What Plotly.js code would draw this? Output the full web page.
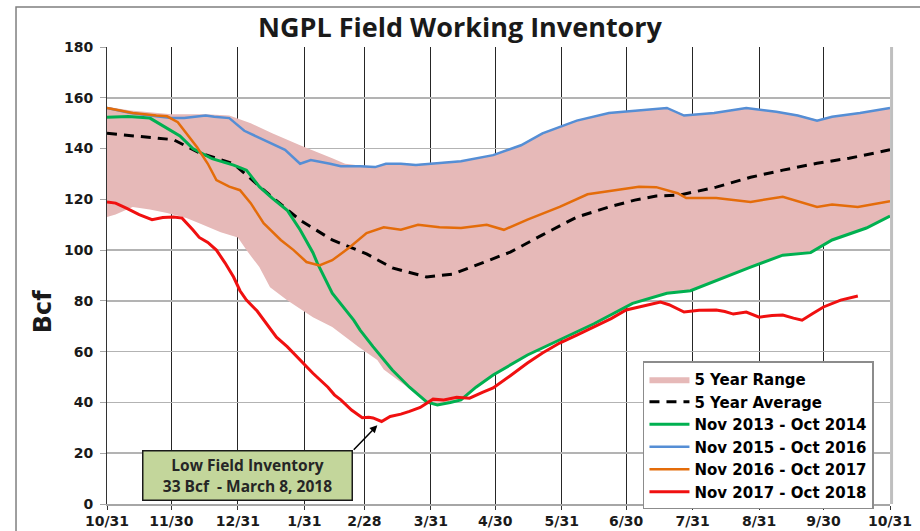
<!DOCTYPE html>
<html>
<head>
<meta charset="utf-8">
<script src="https://cdn.plot.ly/plotly-3.0.1.min.js"></script>
<style>html,body{margin:0;padding:0;background:#fff;}#chart{width:920px;height:531px;}</style>
</head>
<body>
<div id="chart"></div>
<script>
// x values are days since Oct 31
const tickDays = [0,30,61,92,120,151,181,212,242,273,304,334,365];
const tickLabels = ['10/31','11/30','12/31','1/31','2/28','3/31','4/30','5/31','6/30','7/31','8/31','9/30','10/31'];

const rangeLowDays = [0,4,12,20,28,37,43,53,61,65,71,76,84,93,96,105,117,126,129,137,141,149,154,165,172,180,196,211,227,245,261,272,284,300,315,328,338,354,365];
const rangeLowVals = [113,114,117,116,114.6,112.6,110.6,107,105,100,93.3,85.4,80.3,75.2,73.6,69.7,62,56.7,53,48,45.5,40,38.8,40.8,45.8,50.6,58.5,64.4,70.8,78.8,82.8,83.8,87.8,93.1,97.8,98.8,103.8,108.5,113.2];

const rangeHighDays = [0,11,30,46,57,67,77,90,105,111,118,125,130,137,144,151,165,180,193,203,219,234,247,261,269,283,298,312,322,331,338,351,365];
const rangeHighVals = [156.5,155,153.5,153.5,153,150,146,141.3,136.2,134,133.3,133,134.2,134.2,133.8,134.4,135.2,137.6,141.5,146.2,151.2,154.2,155.2,156.2,153.4,154.2,156.2,154.7,153.3,151.3,152.7,154.2,156.2];

const avgDays = [0,20,31,43,59,74,90,105,121,133,149,161,172,188,203,219,234,246,256,267,284,300,315,331,346,360,365];
const avgVals = [146,144.5,143.5,138.3,134,123,111.8,104,98.5,93,89.4,90.5,94,99.2,106,113,117,119.7,121.3,121.7,124.8,128.7,131.5,134.2,136.2,138.6,139.5];

const s2014Days = [0,10,20,28,34,40,49,59,65,71,77,84,90,96,98,105,115,118,124,133,141,149,154,160,165,172,180,196,211,227,245,261,272,284,300,315,328,338,354,365];
const s2014Vals = [152.3,152.6,152,148,145,140,136,133.5,131.5,125,120.5,115.7,108,99,95,83,72.4,68.5,62,52.8,46,40.2,39,40,41,46,50.8,58.7,64.6,71,79,83,84,88,93.3,98,99,104,108.7,113.4];

const s2016Days = [0,11,20,30,36,46,50,57,64,74,83,90,95,104,109,118,125,130,137,144,151,165,180,193,203,219,234,247,261,269,283,298,312,322,331,338,351,365];
const s2016Vals = [156,154,153,152,152,153,152.5,152,147,143,139.5,134,135.5,134,133,133,132.7,134,134,133.5,134,135,137.4,141.3,146,151,154,155,156,153,154,156,154.5,153,151,152.5,154,156];

const s2017Days = [0,12,23,28,33,37,42,47,51,57,62,67,73,81,87,93,99,105,113,121,129,137,145,155,165,177,185,196,211,224,236,248,256,266,270,284,300,315,331,338,350,365];
const s2017Vals = [156,154,153,152.7,150.4,146,140.5,134,127.6,125,123.6,118.5,110.6,104,100,95.3,94,96,101,106.7,109,108,110,109,108.7,110,108,112,117,122,123.6,125,124.8,122.4,120.5,120.5,119,121,117,118,117,119.3];

const s2018Days = [0,4,9,15,21,26,31,35,40,43,47,51,55,59,62,65,70,75,79,84,90,96,103,106,109,114,119,122,124,128,132,137,141,146,152,157,163,169,175,180,188,196,203,211,219,227,235,242,250,258,262,267,269,276,284,288,292,298,304,310,315,320,324,329,334,342,350];
const s2018Vals = [119,118.5,116.5,114,112,112.8,113,112.6,108,105,103,100,95,89.4,84,80.3,76,70,65.7,62,56.7,51.5,46,43,41,37,34,34.2,33.9,32.5,34.5,35.4,36.5,38,41.3,41,42,41.7,44,45.7,50.5,55.5,59.5,63.4,66.5,69.7,73,76.4,78,79.5,78.5,76.2,75.6,76.3,76.4,75.8,74.8,75.6,73.6,74.2,74.4,73.2,72.4,75,77.6,80.3,81.9];

const lowDay = 126, lowVal = 31;

const traces = [
  {x: rangeLowDays, y: rangeLowVals, type:'scatter', mode:'lines', line:{width:0, color:'#E6B9B8'}, showlegend:false, hoverinfo:'skip'},
  {x: rangeHighDays, y: rangeHighVals, type:'scatter', mode:'lines', line:{width:0, color:'#E6B9B8'}, fill:'tonexty', fillcolor:'#E6B9B8', name:'5 Year Range'},
  {x: avgDays, y: avgVals, type:'scatter', mode:'lines', line:{color:'#000000', width:3, dash:'10px,7px'}, name:'5 Year Average'},
  {x: s2014Days, y: s2014Vals, type:'scatter', mode:'lines', line:{color:'#00B050', width:3}, name:'Nov 2013 - Oct 2014'},
  {x: s2016Days, y: s2016Vals, type:'scatter', mode:'lines', line:{color:'#558ED5', width:2.5}, name:'Nov 2015 - Oct 2016'},
  {x: s2017Days, y: s2017Vals, type:'scatter', mode:'lines', line:{color:'#E46C0A', width:2.5}, name:'Nov 2016 - Oct 2017'},
  {x: s2018Days, y: s2018Vals, type:'scatter', mode:'lines', line:{color:'#F01010', width:3}, name:'Nov 2017 - Oct 2018'}
];

const tickFont = {family:'DejaVu Sans', size:14, color:'#1a1a1a', weight:'bold'};

const layout = {
  width:920, height:531,
  margin:{l:107, r:30, t:47, b:27},
  paper_bgcolor:'#ffffff', plot_bgcolor:'#ffffff',
  title:{text:'NGPL Field Working Inventory', x:0.5, xref:'container', y:0.949, yref:'container', yanchor:'middle', xanchor:'center',
         font:{family:'Open Sans', size:27, color:'#1a1a1a', weight:'bold'}},
  xaxis:{range:[0,365], tickvals:tickDays, ticktext:tickLabels, showgrid:true, gridcolor:'#262626', gridwidth:1,
         showline:true, linecolor:'#a6a6a6', linewidth:1.5, ticks:'outside', ticklen:4, tickcolor:'#333333',
         zeroline:false, tickfont:tickFont, fixedrange:true},
  yaxis:{range:[0,180], dtick:20, tick0:0, showgrid:true, gridcolor:'#b3b3b3', gridwidth:1.5,
         showline:true, linecolor:'#333333', linewidth:1, ticks:'outside', ticklen:6, tickcolor:'#a6a6a6',
         zeroline:false, tickfont:tickFont, ticklabelstandoff:4, fixedrange:true},
  legend:{x:0.6845, y:0.312, xanchor:'left', yanchor:'top', bgcolor:'#ffffff', bordercolor:'#8c8c8c', borderwidth:1.5,
          font:{family:'DejaVu Sans', size:15, color:'#000000', weight:'bold'}, traceorder:'normal', itemwidth:40, tracegroupgap:0},
  shapes:[
    {type:'line', xref:'paper', yref:'paper', x0:1.002, x1:1.002, y0:0, y1:1, line:{color:'#bfbfbf', width:3}, layer:'above'},
    {type:'rect', xref:'paper', yref:'paper', x0:-0.1162, x1:1.06, y0:-0.1, y1:1.0875, line:{color:'#7f7f7f', width:1.5}, layer:'above'}
  ],
  annotations:[
    {xref:'paper', yref:'paper', x:-0.0817, y:0.422, xanchor:'center', yanchor:'middle', text:'Bcf', textangle:-90, showarrow:false,
     font:{family:'DejaVu Sans', size:24, color:'#1a1a1a', weight:'bold'}},
    {xref:'x', yref:'y', x:65.3, y:11.4, text:'Low Field Inventory<br>33 Bcf\u00a0 - March 8, 2018', showarrow:false,
     bgcolor:'#C3D69B', bordercolor:'#1a1a1a', borderwidth:1.5, borderpad:4, width:200, height:40,
     font:{family:'Open Sans', size:15.5, color:'#262626', weight:'bold'}},
    {xref:'x', yref:'y', x:lowDay, y:lowVal, axref:'pixel', ayref:'pixel', ax:-25, ay:26, text:'', showarrow:true,
     arrowhead:2, arrowsize:1, arrowwidth:1.5, arrowcolor:'#000000'}
  ]
};

Plotly.newPlot('chart', traces, layout, {displayModeBar:false, staticPlot:true});
</script>
</body>
</html>
